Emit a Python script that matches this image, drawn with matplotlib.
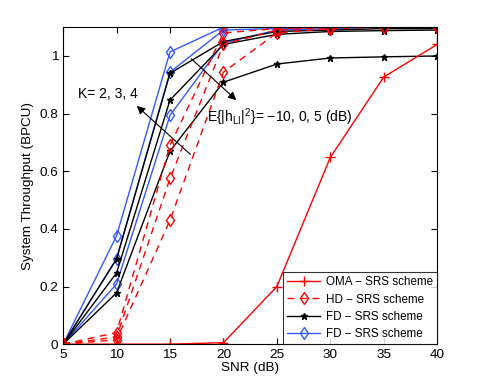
import matplotlib
matplotlib.use("Agg")
import matplotlib.pyplot as plt

snr = [5, 10, 15, 20, 25, 30, 35, 40]

oma = [0, 0, 0, 0.005, 0.2, 0.648, 0.927, 1.04]

hd_curves = [
    [0, 0.015, 0.43, 0.944, 1.08, 1.095, 1.1, 1.1],
    [0, 0.025, 0.575, 1.04, 1.09, 1.1, 1.1, 1.1],
    [0, 0.04, 0.69, 1.08, 1.095, 1.1, 1.1, 1.1],
]
fd_black = [
    [0, 0.178, 0.67, 0.909, 0.972, 0.993, 0.997, 1.0],
    [0, 0.247, 0.847, 1.04, 1.075, 1.085, 1.088, 1.09],
    [0, 0.296, 0.94, 1.05, 1.085, 1.09, 1.095, 1.095],
]
fd_blue = [
    [0, 0.209, 0.794, 1.045, 1.09, 1.095, 1.1, 1.1],
    [0, 0.296, 0.944, 1.09, 1.095, 1.1, 1.1, 1.1],
    [0, 0.376, 1.014, 1.1, 1.1, 1.1, 1.1, 1.1],
]

labels = ["OMA \u2212 SRS scheme", "HD \u2212 SRS scheme", "FD \u2212 SRS scheme", "FD \u2212 SRS scheme"]

plt.rcParams['font.family'] = ['Liberation Sans', 'DejaVu Sans']
fig = plt.figure(figsize=(4.82, 3.88), dpi=100)
ax = fig.add_axes([0.131, 0.113, 0.776, 0.817])

blue = (0.2, 0.35, 1.0)
handles = {}
for i, c in enumerate(fd_blue):
    h, = ax.plot(snr, c, color=blue, lw=1.0, marker='d', ms=6, mfc='none', mew=1.0)
    handles['blue'] = h
for c in fd_black:
    h, = ax.plot(snr, c, color='black', lw=1.0, marker='*', ms=5, mew=1.0)
    handles['black'] = h
for c in hd_curves:
    h, = ax.plot(snr, c, color='red', lw=1.0, ls=(0, (5, 4)), marker='d', ms=6, mfc='none', mew=1.0)
    handles['hd'] = h
h, = ax.plot(snr, oma, color='red', lw=1.0, marker='+', ms=7, mew=1.0)
handles['oma'] = h

ax.set_xlim(5, 40)
ax.set_ylim(0, 1.1)
ax.set_xticks([5, 10, 15, 20, 25, 30, 35, 40])
ax.set_yticks([0, 0.2, 0.4, 0.6, 0.8, 1.0])
ax.set_yticklabels(['0', '0.2', '0.4', '0.6', '0.8', '1'])
ax.tick_params(direction='in', top=True, right=True, labelsize=9.7, length=4)
ax.set_xlabel("SNR (dB)", fontsize=9.7, labelpad=1)
ax.set_ylabel("System Throughput (BPCU)", fontsize=9.7)

leg = ax.legend([handles['oma'], handles['hd'], handles['black'], handles['blue']], labels,
                loc='lower right', fontsize=8.4, frameon=True, fancybox=False,
                edgecolor='black', borderaxespad=0, handlelength=2.8, labelspacing=0.45,
                borderpad=0.35, handletextpad=0.5)
leg.get_frame().set_linewidth(0.8)

ax.annotate("", xy=(11.7, 0.833), xytext=(17.1, 0.652),
            arrowprops=dict(arrowstyle='-|>', color='black', lw=0.8, mutation_scale=12))
ax.text(6.4, 0.868, "K= 2, 3, 4", fontsize=10, va='center')
ax.annotate("", xy=(21.4, 0.84), xytext=(16.8, 0.997),
            arrowprops=dict(arrowstyle='-|>', color='black', lw=0.8, mutation_scale=12))
ax.text(18.5, 0.787, "E{|h$_{\\mathregular{LI}}$|$^{\\mathregular{2}}$}= \u221210, 0, 5 (dB)",
        fontsize=10, va='center')

fig.savefig("out.png", dpi=100)
